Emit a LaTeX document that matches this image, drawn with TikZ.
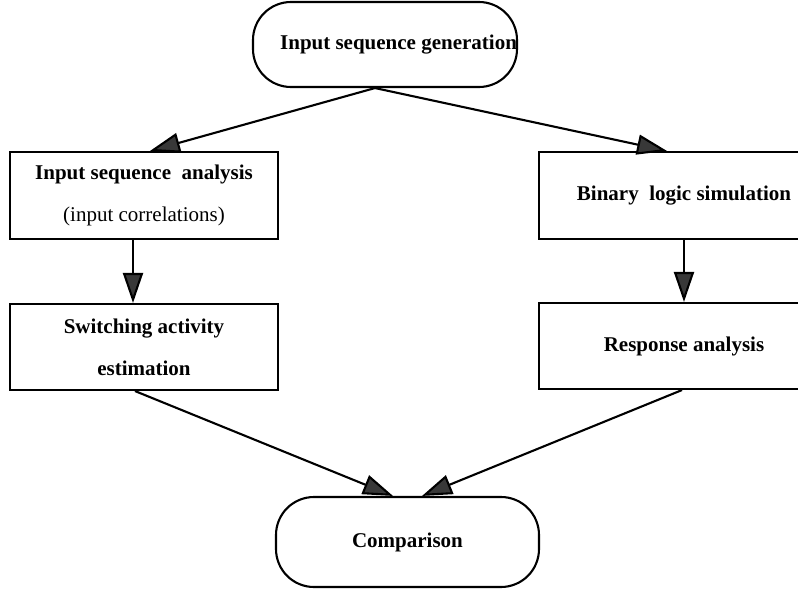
\documentclass[tikz,border=0pt]{standalone}
\usepackage{fontspec}
\setmainfont{Liberation Serif}
\usepackage{tikz}
\usetikzlibrary{arrows.meta}
\usetikzlibrary{positioning}
\definecolor{tipgray}{rgb}{0.22,0.22,0.22}

\begin{document}
\begin{tikzpicture}[x=1pt,y=-1pt,
	line width=2.1pt,
	terminal/.style={draw,rounded corners=38pt,inner sep=0pt},
	stepbox/.style={draw,inner sep=0pt,align=center},
	flow/.style={-{Triangle[length=30pt,width=20pt,fill=tipgray]}},
	font=\fontsize{21}{42}\selectfont\bfseries]
	\useasboundingbox (0,0) rectangle (798,589);
	% start and end
	\node[terminal,text width=264pt,align=flush right,minimum height=85pt] (gen) at (385,44.5) {Input sequence generation};
	\node[terminal,minimum width=263pt,minimum height=90pt] (comp) at (407.5,542) {Comparison};
	% left branch
	\node[stepbox,minimum width=268pt,minimum height=87pt] (anal) at (144,195.5) {Input sequence\ \ analysis\\ \mdseries(input correlations)};
	\node[stepbox,minimum width=268pt,minimum height=86pt] (swit) at (144,347) {Switching activity\\ estimation};
	% right branch
	\node[stepbox,minimum width=290pt,minimum height=87pt] (bin) at (684,195.5) {Binary\ \ logic simulation};
	\node[stepbox,minimum width=290pt,minimum height=86pt] (resp) at (684,346) {Response analysis};
	% connectors
	\draw[flow] ([xshift=-10pt]gen.south) -- ([xshift=6pt]anal.north);
	\draw[flow] ([xshift=-10pt]gen.south) -- ([xshift=-17pt]bin.north);
	\draw[flow] ([xshift=-11pt]anal.south) -- ([xshift=-11pt]swit.north);
	\draw[flow] (bin.south) -- (resp.north);
	\draw[flow] ([xshift=-9pt]swit.south) -- ([xshift=-14.5pt]comp.north);
	\draw[flow] ([xshift=-2pt]resp.south) -- ([xshift=14.5pt]comp.north);
\end{tikzpicture}
\end{document}
